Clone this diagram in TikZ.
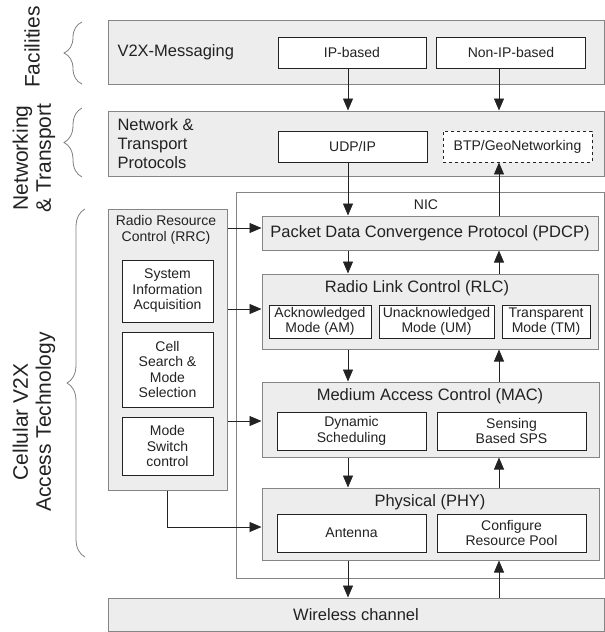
\documentclass[tikz,border=0pt]{standalone}
\usepackage{fontspec}
\setmainfont{Liberation Sans}
\usetikzlibrary{arrows.meta,decorations.pathreplacing}
\definecolor{layergray}{HTML}{EDEDED}
\definecolor{edgegray}{HTML}{858585}
\definecolor{inkgray}{HTML}{222222}
\tikzset{
    layer/.style={draw=edgegray, fill=layergray, line width=1pt, inner sep=0pt}, % gray layer box
    unit/.style={draw=inkgray, fill=white, line width=0.9pt, inner sep=0pt, align=center, font=\fontsize{14}{15.5}\selectfont}, % white sub-box
    flow/.style={draw=inkgray, line width=0.8pt, -{Triangle[length=12pt, width=10pt]}}, % data path arrow
    sidebrace/.style={draw=gray, line width=0.8pt, decorate, decoration={brace, amplitude=18pt}}, % layer brace
    sidetext/.style={rotate=90, align=center, font=\fontsize{21}{23}\selectfont} % rotated layer name
}

\begin{document}
\begin{tikzpicture}[x=1pt, y=-1pt, font=\fontsize{16.5}{19}\selectfont, text=inkgray]
    \useasboundingbox (0,0) rectangle (605,632);
    \coordinate (lanel) at (348,0); \coordinate (laner) at (499,0);

    % facilities
    \node[layer, minimum width=496, minimum height=64] (fac) at (356,52) {};
    \node[anchor=west] (msg) at (114,52) {V2X-Messaging};
    \node[unit, minimum width=148, minimum height=31] (ip) at (352,52.5) {IP-based};
    \node[unit, minimum width=149, minimum height=31] (nonip) at (511,52.5) {Non-IP-based};

    % networking & transport
    \node[layer, minimum width=496, minimum height=65] (net) at (356,143.5) {};
    \node[anchor=west, align=left] (ntp) at (114,144) {Network \&\\Transport\\Protocols};
    \node[unit, minimum width=149, minimum height=31] (udp) at (352.5,146.5) {UDP/IP};
    \node[unit, dashed, minimum width=149, minimum height=31] (btp) at (517.5,146.5) {BTP/GeoNetworking};

    % NIC
    \node[draw=edgegray, line width=1pt, inner sep=0pt, minimum width=368, minimum height=386] (nic) at (420,385) {};
    \node[font=\fontsize{14}{15.5}\selectfont] (nict) at (426,205) {NIC};

    \node[layer, minimum width=336, minimum height=34] (pdcp) at (430,233) {Packet Data Convergence Protocol (PDCP)};

    \node[layer, minimum width=336, minimum height=75] (rlc) at (430,311.5) {};
    \node (rlct) at (417,288) {Radio Link Control (RLC)};
    \node[unit, minimum width=102, minimum height=33] (am) at (320,321.5) {Acknowledged\\Mode (AM)};
    \node[unit, minimum width=115, minimum height=33] (um) at (436.5,321.5) {Unacknowledged\\Mode (UM)};
    \node[unit, minimum width=88, minimum height=33] (tm) at (546,321.5) {Transparent\\Mode (TM)};

    \node[layer, minimum width=337, minimum height=75] (mac) at (430.5,419.5) {};
    \node (mact) at (430,396) {Medium Access Control (MAC)};
    \node[unit, minimum width=149, minimum height=38] (dyn) at (351.5,431) {Dynamic\\Scheduling};
    \node[unit, minimum width=149, minimum height=38] (sps) at (511.5,431) {Sensing\\Based SPS};

    \node[layer, minimum width=337, minimum height=72] (phy) at (430.5,524) {};
    \node (phyt) at (430,502) {Physical (PHY)};
    \node[unit, minimum width=149, minimum height=38] (ant) at (351.5,533) {Antenna};
    \node[unit, minimum width=149, minimum height=38] (pool) at (511.5,533) {Configure\\Resource Pool};

    \node[layer, minimum width=496, minimum height=33] (air) at (356,614.5) {Wireless channel};

    % RRC
    \node[layer, minimum width=119, minimum height=281] (rrc) at (167.5,349.5) {};
    \node[align=center, font=\fontsize{14}{15.5}\selectfont] (rrct) at (166,230) {Radio Resource\\Control (RRC)};
    \node[unit, minimum width=91, minimum height=62] (sia) at (167.5,291) {System\\Information\\Acquisition};
    \node[unit, minimum width=91, minimum height=75] (cell) at (167.5,369.5) {Cell\\Search \&\\Mode\\Selection};
    \node[unit, minimum width=91, minimum height=58] (msc) at (167.5,446) {Mode\\Switch\\control};

    % arrows
    \draw[flow] (ip.south -| lanel) -- (net.north -| lanel);
    \draw[flow] (nonip.south -| laner) -- (net.north -| laner);
    \draw[flow] (udp.south -| lanel) -- (pdcp.north -| lanel);
    \draw[flow] (pdcp.north -| laner) -- (btp.south -| laner);
    \foreach \a/\b in {pdcp/rlc, rlc/mac, mac/phy, phy/air} {
        \draw[flow] (\a.south -| lanel) -- (\b.north -| lanel);
        \draw[flow] (\b.north -| laner) -- (\a.south -| laner);
    }

    \coordinate (tap1) at (0,228); \coordinate (tap2) at (0,309);
    \coordinate (tap3) at (0,421); \coordinate (tap4) at (0,527);
    \draw[flow] (rrc.east |- tap1) -- (pdcp.west |- tap1);
    \draw[flow] (rrc.east |- tap2) -- (rlc.west |- tap2);
    \draw[flow] (rrc.east |- tap3) -- (mac.west |- tap3);
    \draw[flow] (rrc.south) |- (phy.west |- tap4);

    % braces and layer names
    \draw[sidebrace] (82,84) -- (82,22);
    \draw[sidebrace] (82,177) -- (82,108);
    \draw[sidebrace] (85,557) -- (85,209);
    \node[sidetext] (facl) at (32,47) {Facilities};
    \node[sidetext] (netl) at (34,158) {Networking\\\& Transport};
    \node[sidetext] (celll) at (34,422) {Cellular V2X\\Access Technology};
\end{tikzpicture}
\end{document}
